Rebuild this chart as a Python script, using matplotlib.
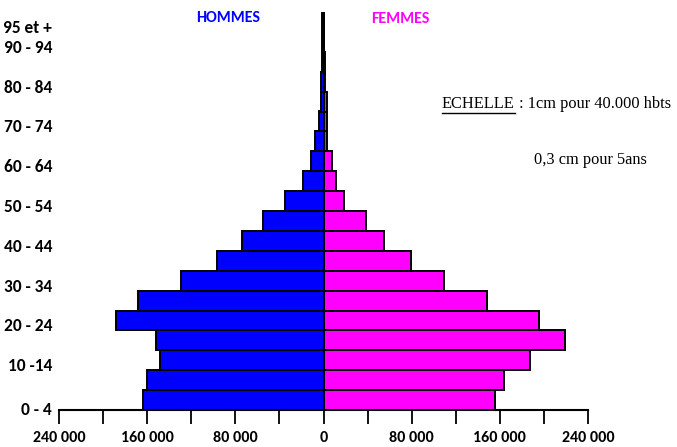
import matplotlib
matplotlib.use("Agg")
import matplotlib.pyplot as plt
import numpy as np

# tranches d'age, du bas vers le haut
ages = ["0 - 4", "5 - 9", "10 -14", "15 - 19", "20 - 24", "25 - 29", "30 - 34",
        "35 - 39", "40 - 44", "45 - 49", "50 - 54", "55 - 59", "60 - 64",
        "65 - 69", "70 - 74", "75 - 79", "80 - 84", "85 - 89", "90 - 94", "95 et +"]
hommes = [164000, 160000, 148000, 152000, 188000, 168000, 129000, 97000, 74000, 54500,
          35000, 19000, 11500, 8000, 4300, 2100, 2000, 1200, 1000, 1000]
femmes = [156000, 164000, 187500, 219000, 195500, 148500, 109500, 79000, 54500, 39000,
          19000, 11000, 7600, 3600, 3600, 3600, 1000, 1000, 700, 700]
shown_ages = ["0 - 4", "10 -14", "20 - 24", "30 - 34", "40 - 44", "50 - 54",
              "60 - 64", "70 - 74", "80 - 84", "90 - 94", "95 et +"]
xticks = [-240000, -200000, -160000, -120000, -80000, -40000, 0,
          40000, 80000, 120000, 160000, 200000, 240000]
xtick_labels = {-240000: "240 000", -160000: "160 000", -80000: "80 000", 0: "0",
                80000: "80 000", 160000: "160 000", 240000: "240 000"}

BLUE = "#0000ff"
PINK = "#ff00ff"
SANS = ["Carlito", "DejaVu Sans"]
SERIF = ["Liberation Serif", "DejaVu Serif"]

fig = plt.figure(figsize=(6.77, 4.47), dpi=100)
ax = fig.add_axes([59 / 677, 37 / 447, 529 / 677, 398 / 447])

y = np.arange(len(ages))
ax.barh(y, -np.array(hommes), height=1.0, color=BLUE, edgecolor="black", linewidth=1.4)
ax.barh(y, femmes, height=1.0, color=PINK, edgecolor="black", linewidth=1.4)

ax.set_xlim(-240000, 240000)
ax.set_ylim(-0.5, 19.5)

for s in ["top", "right", "left"]:
    ax.spines[s].set_visible(False)
ax.spines["bottom"].set_linewidth(1.5)

ax.set_xticks(xticks)
ax.set_xticklabels([xtick_labels.get(t, "") for t in xticks],
                   family=SANS, fontweight="bold", fontsize=11.5)
ax.tick_params(axis="x", direction="out", length=10, width=1.3, pad=5)

ypos = [ages.index(a) - 0.22 for a in shown_ages]
ypos[0] = -0.4
ax.set_yticks(ypos)
ax.set_yticklabels(shown_ages, family=SANS, fontweight="bold", fontsize=12.5)
ax.tick_params(axis="y", length=0, pad=5)

fig.text(228 / 677, 1 - 18 / 447, "HOMMES", color=BLUE, family=SANS,
         fontweight="bold", fontsize=11.5, ha="center", va="center")
fig.text(400 / 677, 1 - 19 / 447, "FEMMES", color=PINK, family=SANS,
         fontweight="bold", fontsize=11.5, ha="center", va="center")

# echelle, avec "ECHELLE" souligne
t1 = fig.text(442 / 677, 1 - 104 / 447, "ECHELLE", family=SERIF,
              fontsize=11.8, ha="left", va="center")
fig.canvas.draw()
bb = t1.get_window_extent()
fig.text(bb.x1 / 677, 1 - 104 / 447, " : 1cm pour 40.000 hbts",
         family=SERIF, fontsize=11.8, ha="left", va="center")
fig.add_artist(plt.Line2D([bb.x0 / 677, bb.x1 / 677],
                          [(bb.y0 - 1) / 447, (bb.y0 - 1) / 447],
                          color="black", linewidth=1.0))
fig.text(590 / 677, 1 - 160 / 447, "0,3 cm pour 5ans", family=SERIF,
         fontsize=11.8, ha="center", va="center")

fig.savefig("out.png", dpi=100)
